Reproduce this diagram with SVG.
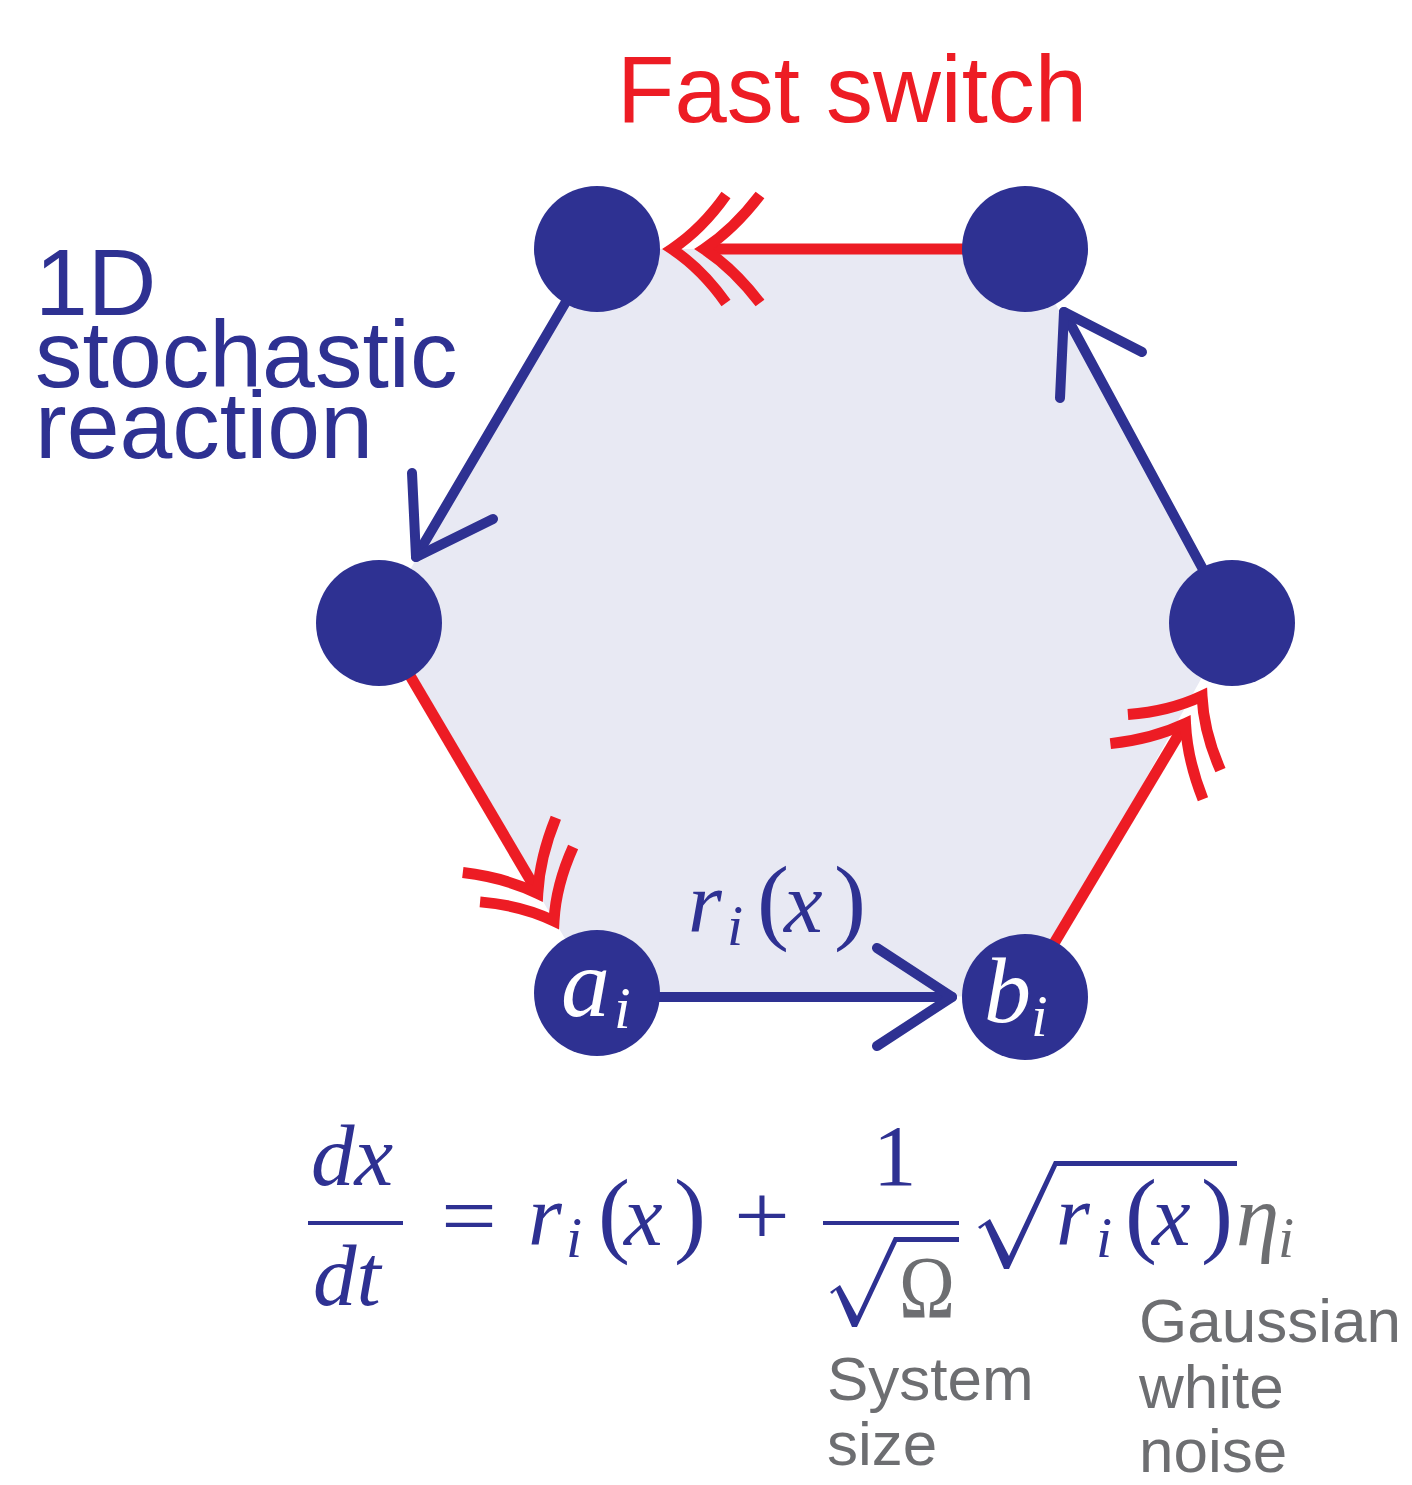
<svg xmlns="http://www.w3.org/2000/svg" xmlns:xlink="http://www.w3.org/1999/xlink" width="1412" height="1485" viewBox="0 0 1412 1485">
<style>
.node{fill:#2e3192}
.red{stroke:#ed1c24;stroke-width:11;fill:none;stroke-linejoin:miter;stroke-miterlimit:10}
.blue{stroke:#2e3192;stroke-width:10;fill:none;stroke-linecap:round;stroke-linejoin:round}
.sans{font-family:"Liberation Sans",Arial,sans-serif}
.mi{font-family:"Liberation Serif","Times New Roman",serif;font-style:italic}
.mr{font-family:"Liberation Serif","Times New Roman",serif}
.navy{fill:#2e3192}
.gray{fill:#6d6e71}
.white{fill:#ffffff}
</style>
<defs>
<g id="dbl">
<path d="M-54,-54 Q-30,-20 0,0 Q-30,20 -54,54"/>
<path d="M-88,-54 Q-62,-20 -32,0 Q-62,20 -88,54"/>
</g>
</defs>
<polygon points="597,249 1025,249 1232,623 1025,997 597,993 379,623" fill="#e8e9f3"/>
<g id="connectors">
<g class="red">
<line x1="1025" y1="249" x2="704" y2="249"/>
<use xlink:href="#dbl" href="#dbl" transform="translate(672,249) rotate(180)"/>
<line x1="379" y1="623" x2="538" y2="893"/>
<use xlink:href="#dbl" href="#dbl" transform="translate(554,921) rotate(59.5)"/>
<line x1="1022" y1="997" x2="1185" y2="724"/>
<use xlink:href="#dbl" href="#dbl" transform="translate(1202,696) rotate(-59)"/>
</g>
<g class="blue">
<line x1="597" y1="997" x2="952" y2="997"/>
<polyline points="877,948 952,997 877,1046"/>
<line x1="1232" y1="623" x2="1064" y2="312"/>
<polyline points="1060,398 1064,312 1142,352"/>
<line x1="597" y1="249" x2="416" y2="557"/>
<polyline points="412,473 416,557 493,519"/>
</g>
</g>
<g id="node-top-left"><circle class="node" cx="597" cy="249" r="63"/></g>
<g id="node-top-right"><circle class="node" cx="1025" cy="249" r="63"/></g>
<g id="node-left"><circle class="node" cx="379" cy="623" r="63"/></g>
<g id="node-right"><circle class="node" cx="1232" cy="623" r="63"/></g>
<g id="node-a">
<circle class="node" cx="597" cy="993" r="63"/>
<text class="mi white" x="561" y="1016" font-size="98">a</text>
<text class="mi white" x="614" y="1028" font-size="60">i</text>
</g>
<g id="node-b">
<circle class="node" cx="1025" cy="997" r="63"/>
<text class="mi white" x="984" y="1022" font-size="94">b</text>
<text class="mi white" x="1031" y="1036" font-size="60">i</text>
</g>
<g id="edge-label">
<text class="mi navy" x="688" y="932" font-size="87">r</text>
<text class="mi navy" x="727" y="945" font-size="58">i</text>
<text class="mr navy" x="757" y="932" font-size="96">(</text>
<text class="mi navy" x="784" y="932" font-size="87">x</text>
<text class="mr navy" x="834" y="932" font-size="96">)</text>
</g>
<g id="title">
<text class="sans" x="617" y="122" font-size="94" fill="#ed1c24">Fast switch</text>
</g>
<g id="label-1d">
<text class="sans navy" font-size="95"><tspan x="35" y="315">1D</tspan><tspan x="35" y="387">stochastic</tspan><tspan x="35" y="458">reaction</tspan></text>
</g>
<g id="equation">
<text class="mi navy" x="311" y="1185" font-size="87">dx</text>
<rect class="navy" x="308" y="1221" width="95" height="4"/>
<text class="mi navy" x="313" y="1305" font-size="87">dt</text>
<text class="mr navy" x="441" y="1245" font-size="87" textLength="56" lengthAdjust="spacingAndGlyphs">=</text>
<text class="mi navy" x="528" y="1245" font-size="87">r</text>
<text class="mi navy" x="566" y="1257" font-size="58">i</text>
<text class="mr navy" x="598" y="1245" font-size="96">(</text>
<text class="mi navy" x="624" y="1245" font-size="87">x</text>
<text class="mr navy" x="674" y="1245" font-size="96">)</text>
<text class="mr navy" x="734" y="1245" font-size="87" textLength="56" lengthAdjust="spacingAndGlyphs">+</text>
<text class="mr navy" x="873" y="1185" font-size="87">1</text>
<rect class="navy" x="823" y="1221" width="136" height="4"/>
<path class="navy" d="M830,1292 L840,1285 L857,1316 L894,1237 L959,1237 L959,1242 L897,1242 L857,1327 L852,1327 L836,1290 L832,1294 Z"/>
<text class="mr gray" x="899" y="1317" font-size="88" textLength="56" lengthAdjust="spacingAndGlyphs">Ω</text>
<path class="navy" d="M978,1227 L990,1219 L1009,1256 L1054,1161 L1237,1161 L1237,1166 L1057,1166 L1009,1269 L1004,1269 L985,1225 L980,1229 Z"/>
<text class="mi navy" x="1056" y="1245" font-size="87">r</text>
<text class="mi navy" x="1096" y="1257" font-size="58">i</text>
<text class="mr navy" x="1125" y="1245" font-size="96">(</text>
<text class="mi navy" x="1152" y="1245" font-size="87">x</text>
<text class="mr navy" x="1201" y="1245" font-size="96">)</text>
<text class="mi gray" x="1236" y="1245" font-size="87">η</text>
<text class="mi gray" x="1278" y="1257" font-size="58">i</text>
</g>
<g id="annotations">
<text class="sans gray" font-size="62"><tspan x="827" y="1400">System</tspan><tspan x="827" y="1465">size</tspan></text>
<text class="sans gray" font-size="62"><tspan x="1139" y="1342">Gaussian</tspan><tspan x="1139" y="1408">white</tspan><tspan x="1139" y="1472">noise</tspan></text>
</g>
</svg>
